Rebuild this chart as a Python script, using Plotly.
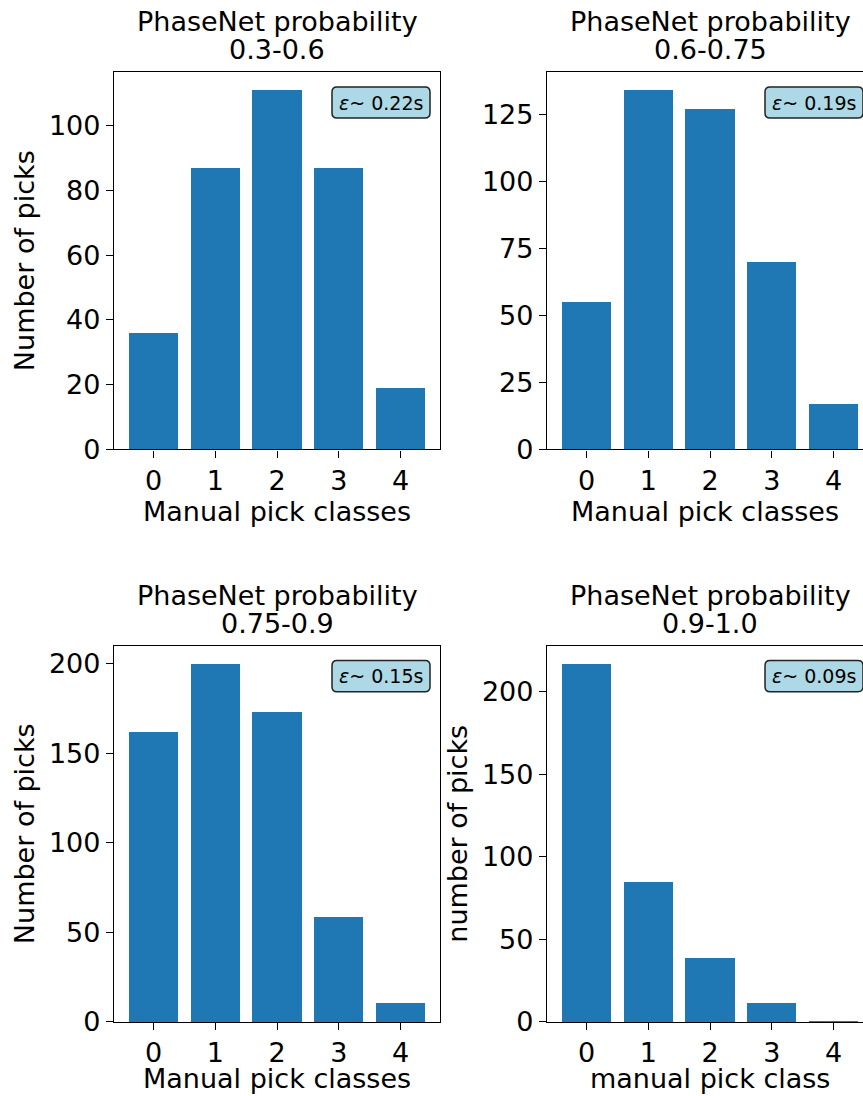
import plotly.graph_objects as go

# ---- data ----
classes = [0, 1, 2, 3, 4]
counts_03_06 = [36, 87, 111, 87, 19]
counts_06_075 = [55, 134, 127, 70, 17]
counts_075_09 = [162, 200, 173, 59, 11]
counts_09_10 = [217, 85, 39, 12, 1]
title_line1 = "PhaseNet probability"
title_line2 = ["0.3-0.6", "0.6-0.75", "0.75-0.9", "0.9-1.0"]
errors = ["0.22s", "0.19s", "0.15s", "0.09s"]
xlabels = ["Manual pick classes", "Manual pick classes", "Manual pick classes", "manual pick class"]
ylabels = ["Number of picks", "", "Number of picks", "number of picks"]
dticks = [20, 25, 50, 50]

TW, TH = 863, 1096          # target picture size
W, H = 863, 1112            # figure size (picture is captured slightly compressed vertically)
FONT = "DejaVu Sans"
BAR = "#1f77b4"
FS = 27

# panel geometry in target pixels (left, right, top, bottom); right column is cropped by edge
panels = [
    (114, 440, 72, 449),
    (547, 873, 72, 449),
    (114, 440, 645, 1021),
    (547, 873, 645, 1021),
]
series = [counts_03_06, counts_06_075, counts_075_09, counts_09_10]


def px(x):
    return x / TW


def py(y):
    return 1 - y / TH


def rounded_box(x0, y0, x1, y1, rad):
    X0, X1 = px(x0), px(x1)
    Y0, Y1 = py(y0), py(y1)  # Y0 top, Y1 bottom
    rx, ry = rad / TW, rad / TH
    return (f"M {X0 + rx},{Y0} L {X1 - rx},{Y0} Q {X1},{Y0} {X1},{Y0 - ry} "
            f"L {X1},{Y1 + ry} Q {X1},{Y1} {X1 - rx},{Y1} L {X0 + rx},{Y1} "
            f"Q {X0},{Y1} {X0},{Y1 + ry} L {X0},{Y0 - ry} Q {X0},{Y0} {X0 + rx},{Y0} Z")


fig = go.Figure()
for i, (vals, (l, r, t, b)) in enumerate(zip(series, panels)):
    n = i + 1
    xa = "x" if n == 1 else f"x{n}"
    ya = "y" if n == 1 else f"y{n}"
    fig.add_trace(go.Bar(x=classes, y=vals, width=0.8, marker=dict(color=BAR, line=dict(width=0)),
                         xaxis=xa, yaxis=ya, showlegend=False))
    x0, x1 = -0.64, 4.64
    vis_r = min(r, TW)
    x1_vis = x0 + (x1 - x0) * (vis_r - l) / (r - l)
    cropped = r > TW
    bottom_row = i >= 2
    xkey = "xaxis" if n == 1 else f"xaxis{n}"
    ykey = "yaxis" if n == 1 else f"yaxis{n}"
    common = dict(showline=True, linecolor="black", linewidth=1.3, ticks="outside", ticklen=7,
                  tickwidth=1.3, tickcolor="black", showgrid=False, zeroline=False,
                  tickfont=dict(family=FONT, size=FS, color="black"))
    fig.layout[xkey] = dict(domain=[px(l), px(vis_r)], range=[x0, x1_vis], anchor=ya,
                            tickvals=classes, mirror=True,
                            title=dict(text="" if bottom_row else xlabels[i],
                                       font=dict(family=FONT, size=FS, color="black"), standoff=4),
                            **common)
    fig.layout[ykey] = dict(domain=[py(b), py(t)], range=[0, max(vals) * 1.05], anchor=xa,
                            dtick=dticks[i], mirror=(not cropped),
                            title=dict(text=ylabels[i], font=dict(family=FONT, size=FS, color="black"),
                                       standoff=6),
                            **common)
    cx = px((l + r) / 2)
    if bottom_row:
        # x title placed explicitly so it stays inside the picture's bottom edge
        fig.add_annotation(text=xlabels[i], xref="paper", yref="paper", x=cx, y=py(1095),
                           xanchor="center", yanchor="bottom", showarrow=False,
                           font=dict(family=FONT, size=FS, color="black"))
    # panel title (two lines)
    fig.add_annotation(text=title_line2[i], xref="paper", yref="paper", x=cx, y=py(t),
                       xanchor="center", yanchor="bottom", yshift=5, showarrow=False,
                       font=dict(family=FONT, size=FS, color="black"))
    fig.add_annotation(text=title_line1, xref="paper", yref="paper", x=cx, y=py(t),
                       xanchor="center", yanchor="bottom", yshift=33, showarrow=False,
                       font=dict(family=FONT, size=FS, color="black"))
    # error box (rounded)
    bx0, bx1, by0, by1 = r - 108, r - 10, t + 15, t + 46
    fig.add_shape(type="path", xref="paper", yref="paper", path=rounded_box(bx0, by0, bx1, by1, 5),
                  fillcolor="#add8e6", line=dict(color="#222222", width=1.5), layer="above")
    fig.add_annotation(text=f"<i>ε</i>~ {errors[i]}", xref="paper", yref="paper",
                       x=px((bx0 + bx1) / 2), y=py((by0 + by1) / 2),
                       xanchor="center", yanchor="middle", showarrow=False,
                       font=dict(family=FONT, size=19, color="black"))

fig.update_layout(width=W, height=H, autosize=False, margin=dict(l=0, r=0, t=0, b=0),
                  paper_bgcolor="white", plot_bgcolor="white", bargap=0)
fig.write_html("out.html", config={"responsive": False, "displayModeBar": False},
               post_script="document.body.style.margin='0';document.body.style.overflow='hidden';")
